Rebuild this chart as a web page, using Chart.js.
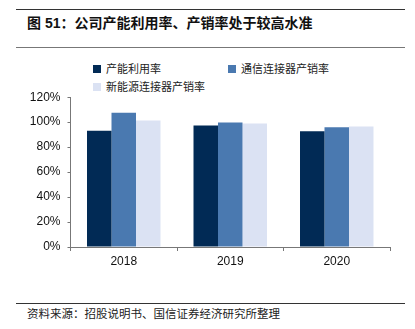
<!DOCTYPE html>
<html>
<head>
<meta charset="utf-8">
<script src="https://cdn.jsdelivr.net/npm/chart.js@4/dist/chart.umd.min.js"></script>
<style>
  body { margin: 0; width: 415px; height: 329px; background: #fff; position: relative; overflow: hidden;
         font-family: "Liberation Sans", Arial, "Noto Sans CJK SC", sans-serif; }
  .rule { position: absolute; left: 16px; width: 389px; }
  #title { position: absolute; left: 27px; top: 12px; font-size: 14px; font-weight: bold; color: #111;
           font-family: "Liberation Sans", "Noto Sans CJK SC", sans-serif; white-space: nowrap; }
  #source { position: absolute; left: 27px; top: 305px; font-size: 11.5px; color: #222;
            font-family: "Noto Sans CJK SC", sans-serif; white-space: nowrap; }
  #legend { position: absolute; left: 0; top: 0; }
  .item { position: absolute; font-size: 11px; color: #222; font-family: "Noto Sans CJK SC", sans-serif;
          white-space: nowrap; line-height: 14px; }
  .item span { display: inline-block; width: 8px; height: 8px; margin-right: 5px; vertical-align: -0px; }
  #wrap { position: absolute; left: 0; top: 83px; width: 395px; height: 192px; }
</style>
</head>
<body>
<div class="rule" style="top:9px;border-top:1.5px solid #333"></div>
<div id="title">图 51：公司产能利用率、产销率处于较高水准</div>
<div class="rule" style="top:47px;border-top:1.5px solid #777"></div>
<div id="legend"></div>
<div id="wrap"><canvas id="chart"></canvas></div>
<div class="rule" style="top:303px;border-top:1px solid #333"></div>
<div id="source">资料来源：招股说明书、国信证券经济研究所整理</div>

<script>
const years = ['2018', '2019', '2020'];
const seriesNames = ['产能利用率', '通信连接器产销率', '新能源连接器产销率'];
const capacityUse = [93.1, 97.4, 92.8];
const telecomSales = [107.5, 99.8, 96.0];
const energySales = [101.4, 99.0, 96.6];
const yTicks = [0, 20, 40, 60, 80, 100, 120];

const colors = ['#012a55', '#4a79b0', '#dbe2f3'];
const legendPos = [[93, 61], [228, 61], [93, 79]];

const datasets = [capacityUse, telecomSales, energySales].map((values, i) => ({
    label: seriesNames[i],
    data: values,
    backgroundColor: colors[i],
    borderWidth: 0,
    categoryPercentage: 0.69,
    barPercentage: 1.0
}));

// legend drawn as html, two rows
const legend = document.getElementById('legend');
datasets.forEach((ds, i) => {
    const el = document.createElement('div');
    el.className = 'item';
    el.style.left = legendPos[i][0] + 'px';
    el.style.top = legendPos[i][1] + 'px';
    el.innerHTML = `<span style="background:${ds.backgroundColor}"></span>${ds.label}`;
    legend.appendChild(el);
});

const axisColor = '#777';
const tickFont = { family: '"Liberation Sans", Arial, sans-serif', size: 12 };

new Chart(document.getElementById('chart'), {
    type: 'bar',
    data: { labels: years, datasets: datasets },
    options: {
        responsive: true,
        maintainAspectRatio: false,
        animation: false,
        layout: { padding: { top: 0, right: 5, left: 0, bottom: 0 } },
        plugins: { legend: { display: false }, tooltip: { enabled: false } },
        scales: {
            x: {
                grid: { drawOnChartArea: false, drawTicks: true, tickLength: 4, color: axisColor, offset: true },
                border: { color: axisColor, width: 1 },
                ticks: { color: '#111', font: tickFont, padding: 3 },
                afterFit: scale => { scale.height = 28; }
            },
            y: {
                min: 0,
                max: 120,
                afterBuildTicks: scale => { scale.ticks = yTicks.map(v => ({ value: v })); },
                grid: { drawOnChartArea: false, drawTicks: true, tickLength: 3, color: axisColor },
                border: { color: axisColor, width: 1 },
                ticks: { color: '#111', font: tickFont, padding: 7, callback: v => v + '%' },
                afterFit: scale => { scale.width = 70.5; }
            }
        }
    }
});
</script>
</body>
</html>
